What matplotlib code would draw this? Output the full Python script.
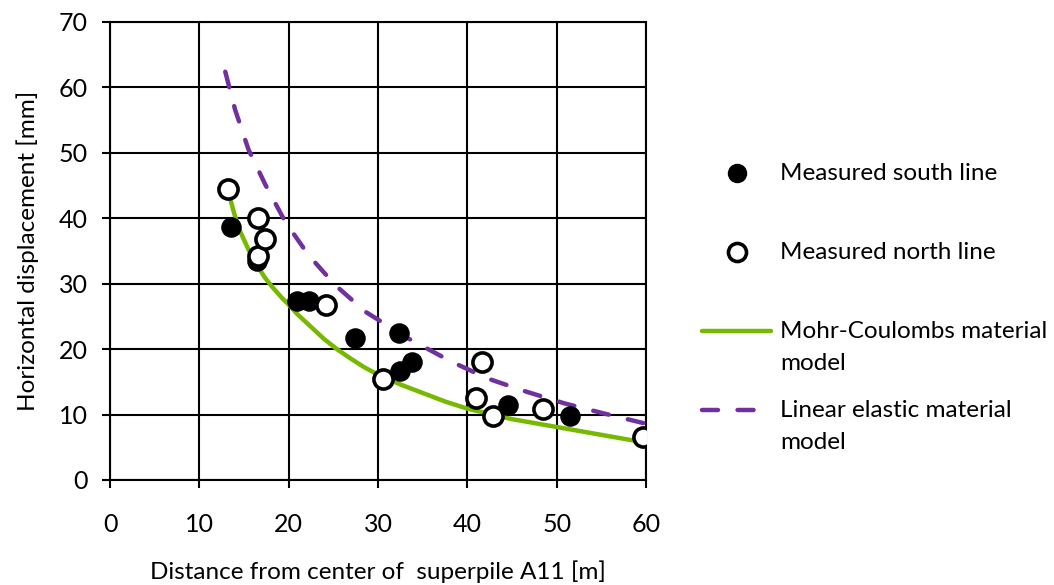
import numpy as np
import matplotlib.pyplot as plt
from matplotlib.lines import Line2D
from matplotlib.legend_handler import HandlerLine2D

plt.rcParams['font.family'] = ['Lato', 'DejaVu Sans']

# Measured points (distance [m], displacement [mm])
south_x = [13.5, 16.4, 20.9, 22.3, 27.4, 32.4, 32.5, 33.8, 44.6, 51.5]
south_y = [38.7, 33.4, 27.3, 27.3, 21.7, 22.5, 16.7, 18.0, 11.4, 9.8]
north_x = [13.2, 16.6, 16.6, 17.3, 24.2, 30.6, 41.0, 41.6, 42.9, 48.5, 59.7]
north_y = [44.4, 40.0, 34.3, 36.8, 26.8, 15.4, 12.6, 18.1, 9.8, 10.8, 6.6]

# Model curves
mc_x = [13.2, 13.8, 14.4, 15.5, 16.6, 17.3, 18.1, 19.2, 20.0, 21, 22.5, 24, 25.5, 27, 28.5, 30,
        32.5, 35, 37.5, 40, 42.5, 45, 47.5, 50, 52.5, 55, 57.5, 60]
mc_y = [44.4, 41.2, 38.5, 35.2, 32.5, 31.0, 29.6, 27.9, 26.8, 25.3, 23.4, 21.5, 19.9, 18.5, 17.2, 16.1,
        14.6, 13.3, 12.0, 10.9, 10.1, 9.3, 8.7, 8.1, 7.5, 6.9, 6.3, 5.7]
le_x = [12.9, 14.0, 15.5, 17.4, 19.6, 22.2, 25.2, 28.6, 33.3, 38.2, 42.3, 46.6, 50.9, 55.2, 59.7]
le_y = [62.4, 56.6, 50.5, 45.1, 39.5, 34.4, 29.8, 25.7, 21.7, 18.1, 15.5, 13.5, 11.7, 10.2, 8.7]

green = '#76b900'
purple = '#7030a0'
dash = (3.6, 4.4)
fs = 17.5


class RaisedHandler(HandlerLine2D):
    # puts the legend handle next to the first line of a two-line label
    def create_artists(self, legend, orig_handle, xdescent, ydescent,
                       width, height, fontsize, trans):
        arts = super().create_artists(legend, orig_handle, xdescent, ydescent,
                                      width, height, fontsize, trans)
        for a in arts:
            a.set_ydata(np.asarray(a.get_ydata(), dtype=float) + 0.68 * fontsize)
        return arts


fig = plt.figure(figsize=(10.54, 5.85), dpi=100)
ax = fig.add_axes([0.1044, 0.1795, 0.5085, 0.7829])

ax.plot(mc_x, mc_y, color=green, lw=3.2, zorder=3)
ax.plot(le_x, le_y, color=purple, lw=3.2, dashes=dash,
        dash_capstyle='round', zorder=3)
ax.scatter(south_x, south_y, s=190, color='black', zorder=4)
ax.scatter(north_x, north_y, s=190, facecolor='white', edgecolor='black',
           linewidth=2.6, zorder=5)

ax.set_xlim(0, 60)
ax.set_ylim(0, 70)
ax.set_xticks(range(0, 61, 10))
ax.set_yticks(range(0, 71, 10))
ax.grid(True, color='black', lw=1.5)
ax.set_axisbelow(True)
for s in ax.spines.values():
    s.set_linewidth(1.5)
ax.tick_params(direction='out', length=6, width=1.5, labelsize=18)
ax.tick_params(axis='x', pad=18)
ax.tick_params(axis='y', pad=10)

ax.set_xlabel('Distance from center of  superpile A11 [m]', fontsize=fs, labelpad=17)
ax.set_ylabel('Horizontal displacement [mm]', fontsize=fs, labelpad=14)

handles = [
    Line2D([], [], marker='o', ls='none', color='black', markersize=13),
    Line2D([], [], marker='o', ls='none', markerfacecolor='white',
           markeredgecolor='black', markeredgewidth=2.6, markersize=13),
    Line2D([], [], color=green, lw=3.2, solid_capstyle='round'),
    Line2D([], [], color=purple, lw=3.2, dashes=dash, dash_capstyle='round'),
]
labels = ['Measured south line\n ', 'Measured north line\n ',
          'Mohr-Coulombs material\nmodel', 'Linear elastic material\nmodel']
leg = fig.legend(handles, labels, loc='upper left', bbox_to_anchor=(0.657, 0.738),
                 frameon=False, fontsize=fs, labelspacing=1.07, handlelength=2.85,
                 handletextpad=0.35, borderaxespad=0,
                 handler_map={Line2D: RaisedHandler()})
for t in leg.get_texts():
    t.set_linespacing(1.65)

fig.savefig('out.png', dpi=100)
